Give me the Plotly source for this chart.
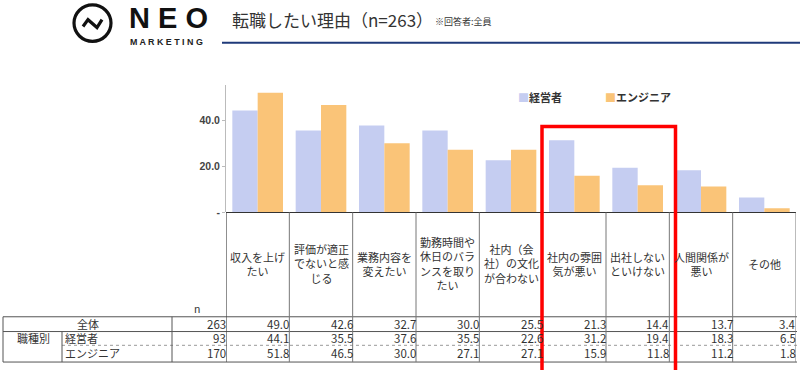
import plotly.graph_objects as go

W, H = 800, 370

categories = [
    "収入を上げ<br>たい",
    "評価が適正<br>でないと感<br>じる",
    "業務内容を<br>変えたい",
    "勤務時間や<br>休日のバラ<br>ンスを取り<br>たい",
    "社内（会<br>社）の文化<br>が合わない",
    "社内の雰囲<br>気が悪い",
    "出社しない<br>といけない",
    "人間関係が<br>悪い",
    "その他",
]
all_values = [49.0, 42.6, 32.7, 30.0, 25.5, 21.3, 14.4, 13.7, 3.4]
exec_values = [44.1, 35.5, 37.6, 35.5, 22.6, 31.2, 19.4, 18.3, 6.5]
eng_values = [51.8, 46.5, 30.0, 27.1, 27.1, 15.9, 11.8, 11.2, 1.8]
row_labels = ["全体", "経営者", "エンジニア"]
row_n = [263, 93, 170]
series_names = ["経営者", "エンジニア"]
ytick_vals = [0, 20, 40]
ytick_text = ["-", "20.0", "40.0"]

BLUE = "#C5CDF1"
ORANGE = "#FAC478"
TXT = "#333333"
FONT = "Noto Sans CJK JP"


def px(x):
    return x / W


def py(y):
    return 1 - y / H


xs = list(range(len(categories)))

fig = go.Figure()
fig.add_trace(go.Bar(x=xs, y=exec_values, name=series_names[0],
                     marker=dict(color=BLUE, line=dict(width=0))))
fig.add_trace(go.Bar(x=xs, y=eng_values, name=series_names[1],
                     marker=dict(color=ORANGE, line=dict(width=0))))

shapes = []
annotations = []

# ---- header: logo ----
shapes.append(dict(type="circle", xref="paper", yref="paper",
                   x0=px(74), x1=px(111), y0=py(42), y1=py(5),
                   line=dict(color="#111111", width=3.2)))
zig = "M {} {} L {} {} L {} {} L {} {}".format(
    px(83), py(27), px(88), py(20), px(97), py(28), px(102), py(20))
shapes.append(dict(type="path", xref="paper", yref="paper", path=zig,
                   line=dict(color="#111111", width=3.2)))
annotations.append(dict(text="<b>N E O</b>", x=px(127), y=py(18), xref="paper", yref="paper",
                        xanchor="left", yanchor="middle", showarrow=False,
                        font=dict(family="Liberation Sans", size=29, color="#111111")))
annotations.append(dict(text="<b>M A R K E T I N G</b>", x=px(128), y=py(43), xref="paper", yref="paper",
                        xanchor="left", yanchor="middle", showarrow=False,
                        font=dict(family="Liberation Sans", size=8.9, color="#222222")))

# ---- header: title ----
annotations.append(dict(text="転職したい理由（n=263）", x=px(230), y=py(20), xref="paper", yref="paper",
                        xanchor="left", yanchor="middle", showarrow=False,
                        font=dict(family=FONT, size=17, color=TXT)))
annotations.append(dict(text="※回答者:全員", x=px(433), y=py(22), xref="paper", yref="paper",
                        xanchor="left", yanchor="middle", showarrow=False,
                        font=dict(family=FONT, size=9, color=TXT)))
shapes.append(dict(type="line", xref="paper", yref="paper", x0=px(222), x1=px(800),
                   y0=py(43.5), y1=py(43.5), line=dict(color="#1F3A7A", width=2)))

# ---- legend ----
leg = [(516, series_names[0], BLUE), (603, series_names[1], ORANGE)]
for lx, name, col in leg:
    annotations.append(dict(text=f"<span style='color:{col}'>■</span><b>{name}</b>",
                            x=px(lx), y=py(99), xref="paper", yref="paper",
                            xanchor="left", yanchor="middle", showarrow=False,
                            font=dict(family=FONT, size=11, color=TXT)))

# ---- category labels ----
for i, c in enumerate(categories):
    annotations.append(dict(text=c, x=i, y=py(268), xref="x", yref="paper",
                            xanchor="center", yanchor="middle", showarrow=False,
                            align="center",
                            font=dict(family=FONT, size=11, color=TXT)))

# ---- table ----
LINE = "#555555"
ROW_Y = [329, 344, 359]
shapes.append(dict(type="line", xref="x", yref="paper", x0=-0.5, x1=len(categories) - 0.5,
                   y0=py(216), y1=py(216), line=dict(color="#333333", width=1.2)))
for yy, x0p in [(322, 3), (337, 3), (368, 3)]:
    shapes.append(dict(type="line", xref="paper", yref="paper", x0=px(x0p), x1=px(797),
                       y0=py(yy), y1=py(yy), line=dict(color=LINE, width=1)))
shapes.append(dict(type="line", xref="paper", yref="paper", x0=px(62), x1=px(797),
                   y0=py(351), y1=py(351), line=dict(color="#999999", width=1, dash="dot")))
for xx, y0p in [(3, 322), (62, 337), (172, 322)]:
    shapes.append(dict(type="line", xref="paper", yref="paper", x0=px(xx), x1=px(xx),
                       y0=py(y0p), y1=py(368), line=dict(color=LINE, width=1)))
for i in range(len(categories) + 1):
    shapes.append(dict(type="line", xref="x", yref="paper", x0=i - 0.5, x1=i - 0.5,
                       y0=py(216), y1=py(368),
                       line=dict(color="#444444" if i == 0 else "#777777", width=1.2 if i == 0 else 1)))

annotations.append(dict(text="n", x=px(197), y=py(314), xref="paper", yref="paper",
                        xanchor="center", yanchor="middle", showarrow=False, borderpad=0,
                        font=dict(family=FONT, size=10.5, color=TXT)))
annotations.append(dict(text=row_labels[0], x=px(88), y=py(ROW_Y[0]), xref="paper", yref="paper",
                        xanchor="center", yanchor="middle", showarrow=False, borderpad=0,
                        font=dict(family=FONT, size=11, color=TXT)))
annotations.append(dict(text="職種別", x=px(33), y=py(ROW_Y[1]), xref="paper", yref="paper",
                        xanchor="center", yanchor="middle", showarrow=False, borderpad=0,
                        font=dict(family=FONT, size=11, color=TXT)))
for lbl, yy in zip(row_labels[1:], ROW_Y[1:]):
    annotations.append(dict(text=lbl, x=px(64), y=py(yy), xref="paper", yref="paper",
                            xanchor="left", yanchor="middle", showarrow=False, borderpad=0,
                            font=dict(family=FONT, size=11, color=TXT)))
for nval, yy in zip(row_n, ROW_Y):
    annotations.append(dict(text=str(nval), x=-0.5, y=py(yy), xref="x", yref="paper",
                            xanchor="right", yanchor="middle", showarrow=False, borderpad=0,
                            xshift=1,
                            font=dict(family=FONT, size=11.5, color=TXT)))
for vals, yy in zip([all_values, exec_values, eng_values], ROW_Y):
    for i, v in enumerate(vals):
        annotations.append(dict(text=f"{v:.1f}", x=i + 0.5, y=py(yy), xref="x", yref="paper",
                                xanchor="right", yanchor="middle", showarrow=False, borderpad=0,
                                xshift=1,
                                font=dict(family=FONT, size=11.5, color=TXT)))

# ---- red highlight box ----
shapes.append(dict(type="rect", xref="paper", yref="paper", x0=px(542), x1=px(675.5),
                   y0=py(400), y1=py(128.5), line=dict(color="#FF0000", width=3.5),
                   fillcolor="rgba(0,0,0,0)"))

fig.update_layout(
    width=W, height=H,
    margin=dict(l=0, r=0, t=0, b=0),
    paper_bgcolor="white", plot_bgcolor="white",
    showlegend=False,
    barmode="group", bargap=0.2, bargroupgap=0,
    font=dict(family=FONT, color=TXT),
    xaxis=dict(domain=[px(226), px(796)], range=[-0.5, len(categories) - 0.5],
               showticklabels=False, showline=False, showgrid=False, zeroline=False,
               ticks=""),
    yaxis=dict(domain=[py(216), py(86.75)], range=[0, 55],
               tickvals=ytick_vals, ticktext=ytick_text,
               showline=True, linecolor="#BBBBBB", linewidth=1,
               ticks="outside", ticklen=3, tickcolor="#BBBBBB",
               showgrid=False, zeroline=False,
               tickfont=dict(family="Liberation Sans", size=10.5, color="#444444", weight="bold")),
    shapes=shapes,
    annotations=annotations,
)

post = (
    "var d=document.documentElement,b=document.body;"
    "d.style.margin='0';d.style.padding='0';d.style.overflow='hidden';d.style.height='370px';"
    "b.style.margin='0';b.style.padding='0';b.style.overflow='hidden';b.style.height='370px';"
)
fig.write_html("out.html", config={"displayModeBar": False}, post_script=post)
